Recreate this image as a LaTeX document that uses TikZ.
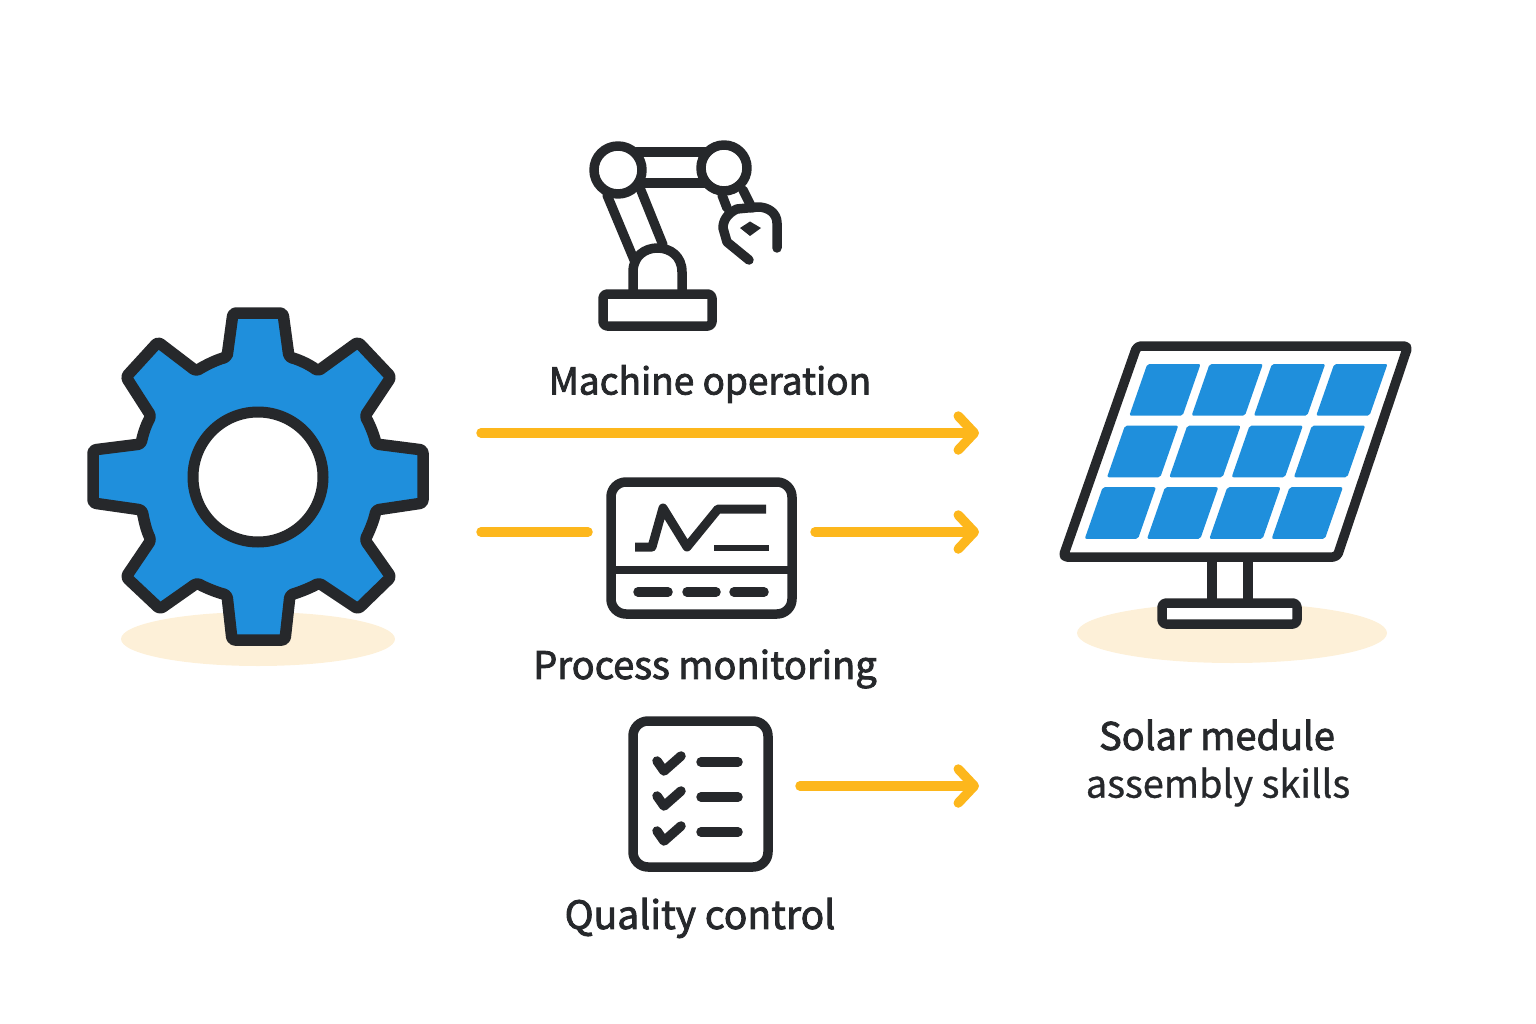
\documentclass[tikz,border=0pt]{standalone}
\usepackage{fontspec}
\setmainfont{Noto Sans CJK SC}
\newfontfamily\medfont[FakeBold=2.2]{Noto Sans CJK SC}
\newfontfamily\midfont[FakeBold=0.8]{Noto Sans CJK SC}
\usetikzlibrary{arrows.meta}
\definecolor{ink}{HTML}{26282B}
\definecolor{cellblue}{HTML}{1F8FDC}
\definecolor{flow}{HTML}{FDB71C}
\definecolor{padtone}{HTML}{FDF0D8}
\tikzset{
    icon/.style = {draw=ink, line width=9.5pt, line join=round, line cap=round},
    flowline/.style = {draw=flow, line width=9.5pt, line cap=round, -{Straight Barb[length=16pt,width=34pt,line cap=round,round]}},
    flowstub/.style = {draw=flow, line width=9.5pt, line cap=round},
    lbl/.style = {text=ink, font=\medfont\fontsize{38}{42}\selectfont, inner sep=0pt},
    lbllight/.style = {text=ink, font=\midfont\fontsize{38}{42}\selectfont, inner sep=0pt}
}
\begin{document}
\begin{tikzpicture}[x=1pt, y=-1pt]
            \useasboundingbox (0,0) rectangle (1536,1024);
            %shadows
            \fill[padtone] (258,639) ellipse (137 and 27);
            \fill[padtone] (1232,633) ellipse (155 and 30);
            
            %gear
            \draw[icon, line width=11.5pt, fill=cellblue, rounded corners=3pt] (227,357) -- (233,313) -- (283,313) -- (289,357)
                .. controls (300,360) and (310,365) .. (318,371) -- (358,342) -- (391,377) -- (365,416) .. controls (370,425) and (374,435) .. (376,444)
                -- (423,450) -- (423,503) -- (376,510) .. controls (374,520) and (370,530) .. (365,540) -- (391,577)
                -- (358,609) -- (319,583) .. controls (310,588) and (300,592) .. (290,595) -- (285,640) -- (232,640)
                -- (227,595) .. controls (216,592) and (206,588) .. (197,583) -- (160,609) -- (126,577) -- (151,540)
                .. controls (146,530) and (144,520) .. (142,510) -- (93,503) -- (93,450) -- (141,444) .. controls (143,434) and (146,425) .. (151,416)
                -- (126,377) -- (158,342) -- (196,371) .. controls (206,365) and (216,360) .. (227,357) -- cycle;
            \draw[icon, line width=11pt, fill=white] (258,477) circle (65);
            
            %robot arm
            \draw[icon] (636,152) -- (706,152);
            \draw[icon] (640,183) -- (706,183);
            \draw[icon] (607,195) -- (635,262);
            \draw[icon] (640,188) -- (663,245);
            \draw[icon] (722,195) -- (727,208);
            \draw[icon] (743,190) -- (752,208);
            \draw[icon] (618,170) circle (24);
            \draw[icon] (724,168) circle (23);
            \draw[icon] (633,293) -- (633,272) .. controls (633,256) and (645,248) .. (657.5,248) .. controls (670,248) and (682,256) .. (682,272) -- (682,293);
            \draw[icon, rounded corners=4pt] (603,294) rectangle (712,326);
            \draw[icon] (777,248) -- (777,223) .. controls (777,213) and (768,207) .. (758,207) -- (737,209) .. controls (728,213) and (723,220) .. (723,228) -- (727,242) -- (749,260);
            \fill[ink] (740,228) -- (750,221.5) -- (761,228) -- (750,236) -- cycle;
            
            %monitor
            \draw[icon, rounded corners=15pt] (611,482) rectangle (792,614);
            \draw[icon, line cap=butt, line width=7.5pt] (611,570) -- (792,570);
            \draw[draw=ink, line width=9pt, line join=round] (635,547) -- (652,547) -- (663,508) -- (687,547) -- (718,509) -- (766,509);
            \draw[draw=ink, line width=5.5pt] (714,548) -- (769,548);
            \foreach \xa/\xb in {638/668, 687/716, 734/764}
                \draw[icon] (\xa,592) -- (\xb,592);
            
            %checklist
            \draw[icon, rounded corners=15pt] (633,721) rectangle (768,867);
            \foreach \ya in {0,35,70}{
                \draw[icon] (657,761+\ya) -- (664,771+\ya) -- (681,756+\ya);
                \draw[icon] (701,762+\ya) -- (738,762+\ya);
            }
            
            %solar panel
            \draw[icon] (1212,560) -- (1212,603);
            \draw[icon] (1248,560) -- (1248,603);
            \draw[icon, fill=white, rounded corners=4pt] (1162,603) rectangle (1297,624);
            \draw[icon, fill=white, rounded corners=4pt] (1137,346) -- (1408,346) -- (1337,557) -- (1063,557) -- cycle;
            \foreach \ro in {0,1,2}
                \foreach \co in {0,1,2,3}
                    \fill[cellblue, rounded corners=2pt, shift={(62.3*\co-22.3*\ro,61.6*\ro)}] (1147.3,364) -- (1200.6,364) -- (1182.6,415.7) -- (1129.3,415.7) -- cycle;
            
            %labels
            \node[lbl, font=\medfont\fontsize{37}{42}\selectfont] (machine) at (710,384) {Machine operation};
            \node[lbl] (process) at (705,669) {Process monitoring};
            \node[lbl, font=\medfont\fontsize{39}{42}\selectfont] (quality) at (700,918) {Quality control};
            \node[lbl] (solar) at (1217,735) {Solar medule};
            \node[lbllight] (skills) at (1218,787) {assembly skills};
            
            %flows
            \coordinate (topstart) at (481,433);
            \coordinate (topend) at (979,433);
            \coordinate (midstart) at (481,532);
            \coordinate (midgap) at (588,532);
            \coordinate (midrestart) at (815,532);
            \coordinate (midend) at (979,532);
            \coordinate (lowstart) at (800,786);
            \coordinate (lowend) at (979,786);
            \draw[flowline] (topstart) -- (topend);
            \draw[flowstub] (midstart) -- (midgap);
            \draw[flowline] (midrestart) -- (midend);
            \draw[flowline] (lowstart) -- (lowend);
            
\end{tikzpicture}
\end{document}
